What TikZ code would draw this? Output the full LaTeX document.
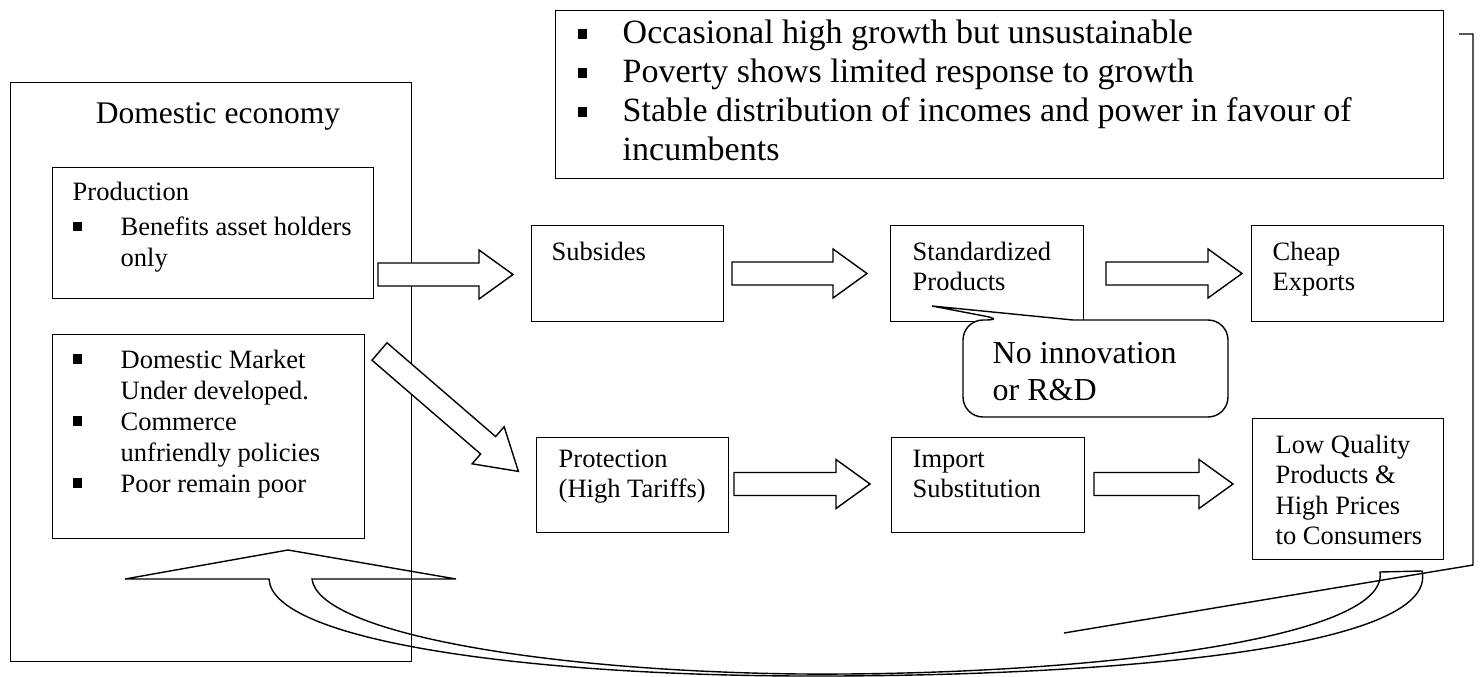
\documentclass[tikz,border=0pt]{standalone}
\usepackage{fontspec}
\setmainfont{Liberation Serif}
\newcommand{\bul}[1]{\makebox[#1][l]{\rule[4.5pt]{9.5pt}{9.5pt}}}
\tikzset{
  box/.style={draw, line width=1.4pt, inner sep=0pt, anchor=north west},
  txt/.style={inner sep=0pt, anchor=base west, align=left, font=\fontsize{26.5}{30.5}\selectfont},
  bigtxt/.style={inner sep=0pt, anchor=base west, align=left, font=\fontsize{34}{39}\selectfont},
  pics/barrow/.style args={#1/#2}{code={
    \draw[fill=white, line width=1.4pt] (0,-11.5) -- (#1-#2,-11.5) -- (#1-#2,-24.5) -- (#1,0)
      -- (#1-#2,24.5) -- (#1-#2,11.5) -- (0,11.5) -- cycle;}}
}
\begin{document}
\begin{tikzpicture}[x=1pt, y=-1pt, line width=1.4pt]
\useasboundingbox (0,0) rectangle (1480,677);

% domestic economy (anchor base west = baseline of the LAST line)
\node[box, minimum width=401pt, minimum height=579pt] (dom) at (10,82) {};
\node[inner sep=0pt, anchor=base, font=\fontsize{31.5}{36}\selectfont] (domt) at (218,123) {Domestic economy};

\node[box, minimum width=321pt, minimum height=131pt] (prod) at (52,167) {};
\node[txt] (prodt) at (72,266) {Production\\[5pt]\bul{48pt}Benefits asset holders\\\hspace*{48pt}only};

\node[box, minimum width=312pt, minimum height=204pt] (mkt) at (52,334) {};
\node[txt, font=\fontsize{26.5}{31}\selectfont] (mktt) at (72,492) {\bul{48pt}Domestic Market\\\hspace*{48pt}Under developed.\\\bul{48pt}Commerce\\\hspace*{48pt}unfriendly policies\\\bul{48pt}Poor remain poor};

% top box
\node[box, minimum width=888pt, minimum height=168pt] (top) at (555,10) {};
\node[bigtxt] (topt) at (577,160) {\bul{45pt}Occasional high growth but unsustainable\\\bul{45pt}Poverty shows limited response to growth\\\bul{45pt}Stable distribution of incomes and power in favour of\\\hspace*{45pt}incumbents};

% top row
\node[box, minimum width=192pt, minimum height=96pt] (subs) at (531,225) {};
\node[txt] (subst) at (551,260) {Subsides};
\node[box, minimum width=193pt, minimum height=96pt] (std) at (890,225) {};
\node[txt] (stdt) at (912,290.5) {Standardized\\Products};
\node[box, minimum width=192pt, minimum height=96pt] (chp) at (1251,225) {};
\node[txt] (chpt) at (1272,290.5) {Cheap\\Exports};

% bottom row
\node[box, minimum width=192pt, minimum height=95pt] (prot) at (536,437) {};
\node[txt] (prott) at (558,497.5) {Protection\\(High Tariffs)};
\node[box, minimum width=193pt, minimum height=95pt] (imp) at (891,437) {};
\node[txt] (impt) at (912,497.5) {Import\\Substitution};
\node[box, minimum width=191pt, minimum height=141pt] (low) at (1252,418) {};
\node[txt] (lowt) at (1275,544.5) {Low Quality\\Products \&\\High Prices\\to Consumers};

% callout
\draw[fill=white] (1100,320) [rounded corners=20pt] -- (1228,320) -- (1228,417) -- (963,417) -- (963,320) -- (1005,320) [sharp corners] -- (932,306) -- (1073,320) -- cycle;
\node[inner sep=0pt, anchor=base west, align=left, font=\fontsize{32}{37}\selectfont] (cal) at (992,400) {No innovation\\or R\&D};

% block arrows
\pic at (378,274.5) {barrow=135/34};
\pic at (732,273.5) {barrow=135/34};
\pic at (1106,273.5) {barrow=136/34};
\pic at (734,484) {barrow=136/34};
\pic at (1094,484) {barrow=139/34};
\pic[rotate=-40.8] at (379.5,351.5) {barrow=183.5/40};

% bracket
\draw (1459,34) -- (1473,34) -- (1473,565) -- (1064,633);

% curved return arrow
\draw (269,579) .. controls (272,640) and (520,675) .. (800,676)
  .. controls (1100,677) and (1440,650) .. (1422,571) -- (1380,572)
  .. controls (1390,640) and (1080,676) .. (800,674)
  .. controls (540,671) and (318,632) .. (312,579)
  -- (456,579) -- (288,550) -- (125,579) -- cycle;
\end{tikzpicture}
\end{document}
